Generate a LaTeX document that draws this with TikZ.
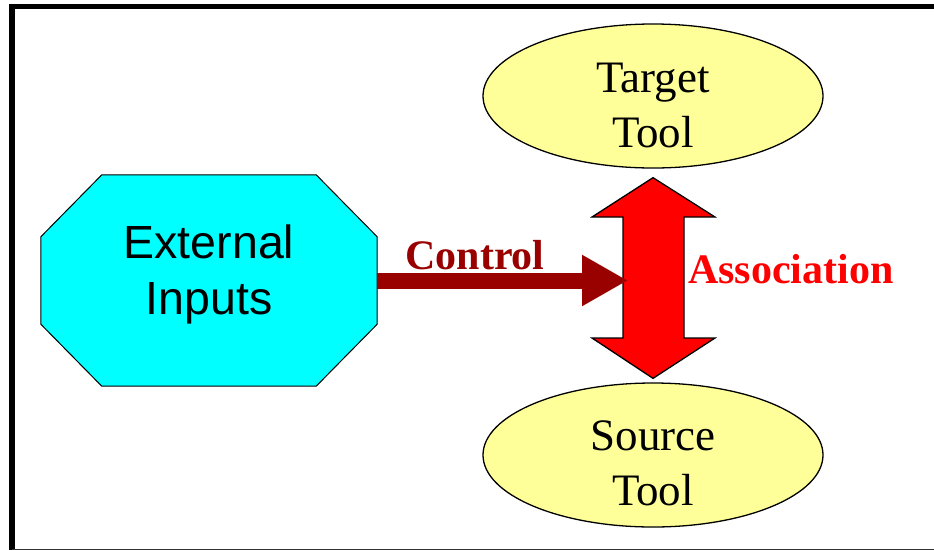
\documentclass[tikz,border=0pt]{standalone}
\usepackage{fontspec}
\setmainfont{Liberation Serif}
\newfontfamily\arialfont{Liberation Sans}
\usetikzlibrary{shapes.geometric,arrows.meta,calc}
\definecolor{octocyan}{HTML}{00FFFF}
\definecolor{ctrlred}{HTML}{990000}
\definecolor{assocred}{HTML}{FF0000}
\definecolor{toolyellow}{HTML}{FFFF99}
\definecolor{edgegray}{HTML}{333333}
\begin{document}
\begin{tikzpicture}[x=1pt,y=-1pt,
  frameline/.style={line width=5.5pt,line join=miter,line cap=butt},
  octo/.style={draw=black,line width=1pt,fill=octocyan,line join=miter},
  toolell/.style={ellipse,draw=black,line width=1.3pt,fill=toolyellow,minimum width=340pt,minimum height=144pt,inner sep=0pt},
  tooltxt/.style={align=center,font=\fontsize{45}{55}\selectfont,inner sep=0pt},
  exttxt/.style={align=center,font=\arialfont\fontsize{46.5}{56}\selectfont,inner sep=0pt},
  ctrlarrow/.style={draw=ctrlred,line width=16pt,-{Triangle[length=46pt,width=48pt]}},
  dblarrow/.style={draw=black,line width=1.3pt,fill=assocred,line join=miter},
  boldlbl/.style={font=\bfseries\fontsize{42}{50}\selectfont,inner sep=0pt,anchor=base}
]
\useasboundingbox (0,0) rectangle (934,550);
% frame
\draw[frameline] (934,6.5) -- (12,6.5) -- (12,550);
\draw[edgegray,line width=1pt] (12,549.5) -- (934,549.5);

% External Inputs octagon
\node[minimum width=336pt,minimum height=211pt,inner sep=0pt] (ext) at (209,280.5) {};
\draw[octo] ([xshift=61pt]ext.north west) -- ([xshift=-61pt]ext.north east)
  -- ([yshift=-62pt]ext.north east) -- ([yshift=62pt]ext.south east)
  -- ([xshift=-61pt]ext.south east) -- ([xshift=61pt]ext.south west)
  -- ([yshift=62pt]ext.south west) -- ([yshift=-62pt]ext.north west) -- cycle;
\node[exttxt] (extlbl) at (209,274.3) {External\\Inputs};

% tools
\node[toolell] (tgt) at (653,96) {};
\node[tooltxt] (tgtlbl) at (653,105.7) {Target\\Tool};
\node[toolell] (src) at (653,455) {};
\node[tooltxt] (srclbl) at (653,463) {Source\\Tool};

% association double arrow
\coordinate (atop) at ($(tgt.south)+(0,9)$);
\coordinate (abot) at ($(src.north)+(0,-4)$);
\draw[dblarrow] (atop) -- (715,217) -- (684,217) -- (684,338) -- (715,338)
  -- (abot) -- (592,338) -- (623,338) -- (623,217) -- (592,217) -- cycle;
\node[boldlbl,text=assocred] (assoclbl) at (791,283) {Association};

% control arrow
\coordinate (ctip) at (628,280.5);
\draw[ctrlarrow] (ext.east) -- (ctip);
\node[boldlbl,text=ctrlred] (ctrllbl) at (475,269) {Control};
\end{tikzpicture}
\end{document}
